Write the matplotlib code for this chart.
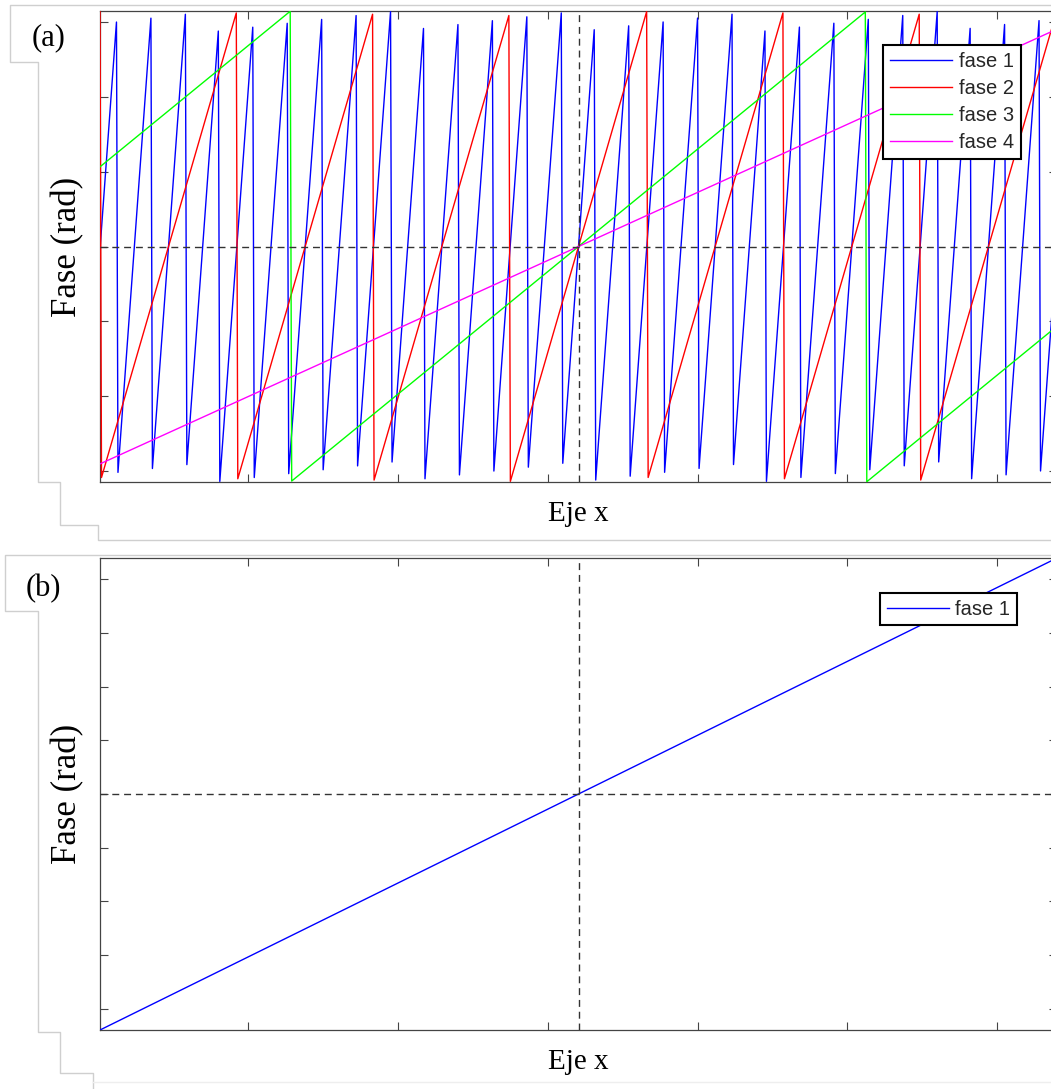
import numpy as np
import matplotlib
matplotlib.use("Agg")
import matplotlib.pyplot as plt
from matplotlib.lines import Line2D

# Sample positions along the x axis (pixel index)
x_limits = [1, 640]
x_ticks = [100, 200, 300, 400, 500, 600]

# Unwrapped phase (rad) at the first and last sample of each ramp
series_names = ["fase 1", "fase 2", "fase 3", "fase 4"]
phase_start = [-88.0, -22.0, -5.22, -2.90]
phase_end = [88.0, 22.0, 5.22, 2.90]
series_colors = ["#0000ff", "#ff0000", "#00ff00", "#ff00ff"]

# Tick positions on the phase axes
yticks_wrapped = [-3, -2, -1, 0, 1, 2, 3]
yticks_unwrapped = [-80, -60, -40, -20, 0, 20, 40, 60, 80]

W, H = 1051, 1089
fig = plt.figure(figsize=(W / 100, H / 100), dpi=100)
fig.patch.set_facecolor("white")

serif = ["Liberation Serif", "DejaVu Serif"]
sans = ["Liberation Sans", "DejaVu Sans"]
spine_col = "#444444"
outline_col = "#cfcfcf"


def rect(left, top, right, bottom):
    return [left / W, 1 - bottom / H, (right - left) / W, (bottom - top) / H]


def px_line(xs, ys, **kw):
    fig.add_artist(Line2D([v / W for v in xs], [1 - v / H for v in ys],
                          transform=fig.transFigure, **kw))


def style_axes(ax, yticks):
    ax.set_xlim(*x_limits)
    ax.set_xticks(x_ticks)
    ax.set_yticks(yticks)
    ax.set_xticklabels([])
    ax.set_yticklabels([])
    ax.tick_params(direction="in", top=True, right=True, length=6,
                   width=0.8, color=spine_col)
    for s in ax.spines.values():
        s.set_color(spine_col)
        s.set_linewidth(0.9)
    ax.set_xlabel("Eje x", family=serif, fontsize=21, labelpad=10)
    ax.set_ylabel("Fase (rad)", family=serif, fontsize=25, labelpad=8)


def style_legend(leg):
    leg.get_frame().set_linewidth(1.5)
    for t in leg.get_texts():
        t.set_color("#262626")


x = np.arange(x_limits[0], x_limits[1] + 1)
x_mid = (x_limits[0] + x_limits[1]) / 2


def ramp(i):
    return phase_start[i] + (phase_end[i] - phase_start[i]) * (x - x[0]) / (x[-1] - x[0])


dash = (0, (5, 3.5))
legend_kw = dict(loc="upper left", bbox_transform=fig.transFigure,
                 prop={"family": sans, "size": 14.5}, fancybox=False,
                 edgecolor="black", framealpha=1, handlelength=3.1,
                 handletextpad=0.3, borderaxespad=0)

# ---- (a) wrapped phases ----
ax1 = fig.add_axes(rect(100, 11, 1057, 482))
for i, name in enumerate(series_names):
    wrapped = np.angle(np.exp(1j * ramp(i)))
    ax1.plot(x, wrapped, color=series_colors[i], lw=1.0, label=name, zorder=3)
ax1.set_ylim(-np.pi, np.pi)
ax1.axhline(0, color="#333333", lw=1.0, ls=dash, zorder=5)
ax1.axvline(x_mid, color="#333333", lw=1.0, ls=dash, zorder=5)
style_axes(ax1, yticks_wrapped)
leg1 = ax1.legend(bbox_to_anchor=(883 / W, 1 - 45 / H), labelspacing=0.4,
                  borderpad=0.35, **legend_kw)
style_legend(leg1)

# ---- (b) unwrapped phase ----
ax2 = fig.add_axes(rect(100, 558, 1057, 1030))
ax2.plot(x_limits, [phase_start[0], phase_end[0]], color=series_colors[0],
         lw=1.0, label=series_names[0], zorder=3)
ax2.set_ylim(phase_start[0], phase_end[0])
ax2.axhline(0, color="#333333", lw=1.0, ls=dash, zorder=5)
ax2.axvline(x_mid, color="#333333", lw=1.0, ls=dash, zorder=5)
style_axes(ax2, yticks_unwrapped)
leg2 = ax2.legend(bbox_to_anchor=(880 / W, 1 - 593 / H), borderpad=0.33,
                  **legend_kw)
style_legend(leg2)

# ---- panel frames and labels ----
px_line([1051, 10, 10, 38, 38, 60, 60, 98, 98, 1051],
        [5, 5, 62, 62, 482, 482, 525, 525, 540, 540], color=outline_col, lw=1.0)
px_line([1051, 5, 5, 38, 38, 60, 60, 93, 93],
        [555, 555, 611, 611, 1032, 1032, 1073, 1073, 1089], color=outline_col, lw=1.0)
px_line([93, 1051], [1082, 1082], color="#eeeeee", lw=1.0)

fig.text(49 / W, 1 - 38 / H, "(a)", family=serif, fontsize=22,
         ha="center", va="center")
fig.text(43 / W, 1 - 589 / H, "(b)", family=serif, fontsize=22,
         ha="center", va="center")

fig.savefig("out.png", dpi=100, facecolor="white")
